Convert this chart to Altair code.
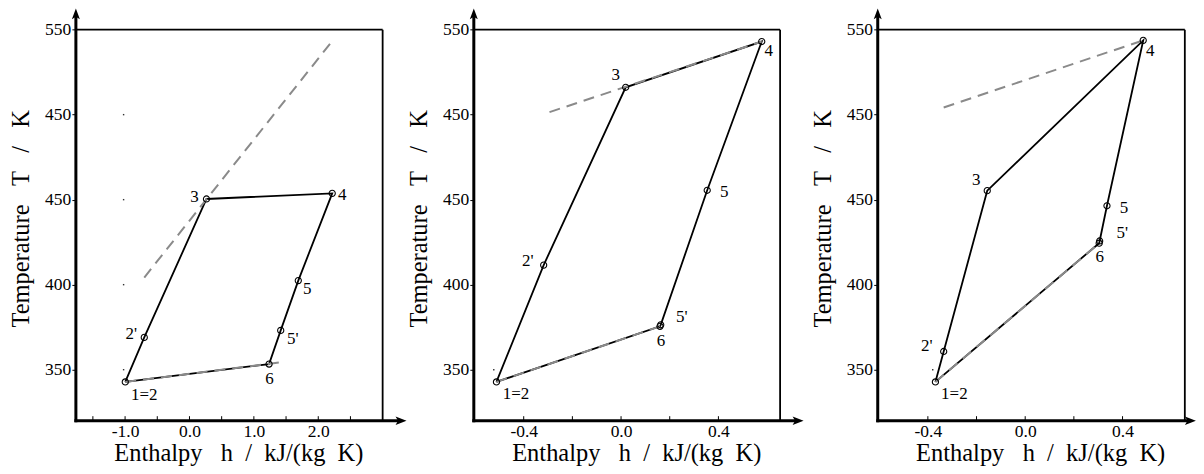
import altair as alt
import pandas as pd

FONT = "Liberation Serif, Times New Roman, Times, DejaVu Serif, serif"
TICK_FONT_SIZE = 17.5
LABEL_FONT_SIZE = 17
TITLE_FONT_SIZE = 24.5
GRAY = "#8a8a8a"

# ---------------- data ----------------
POINT_NAMES = ["1=2", "2'", "3", "4", "5", "5'", "6"]
CYCLE_ORDER = [0, 1, 2, 3, 4, 5, 6, 0]

# panel 1
P1_H = [-0.997, -0.702, 0.264, 2.217, 1.690, 1.417, 1.236]
P1_T = [342.8, 369.0, 450.4, 453.7, 402.4, 373.1, 353.3]
P1_GUIDES = [([-0.702, 2.217], [404.2, 543.3]), ([-0.997, 1.417], [342.8, 354.3])]
P1_DOT_H = [-1.023, -1.023, -1.023, -1.023]
P1_DOT_T = [350, 400, 450, 500]
P1_XLABELS = [-1.0, 0.0, 1.0, 2.0]
P1_XMINOR = [-1.5, -1.0, -0.5, 0.0, 0.5, 1.0, 1.5, 2.0, 2.5]

# panel 2
P2_H = [-0.512, -0.318, 0.019, 0.578, 0.354, 0.163, 0.160]
P2_T = [342.8, 411.5, 516.1, 543.0, 455.5, 376.4, 375.5]
P2_GUIDES = [([-0.294, 0.578], [501.5, 543.0]), ([-0.512, 0.160], [342.8, 375.5])]
P2_DOT_H = [-0.523]
P2_DOT_T = [350]
P2_XLABELS = [-0.4, 0.0, 0.4]
P2_XMINOR = [-0.4, -0.2, 0.0, 0.2, 0.4]

# panel 3
P3_H = [-0.369, -0.335, -0.156, 0.485, 0.336, 0.306, 0.304]
P3_T = [342.8, 360.7, 455.3, 543.7, 446.4, 425.7, 424.4]
P3_GUIDES = [([-0.335, 0.485], [504.2, 543.7]), ([-0.369, 0.304], [342.8, 424.4])]
P3_DOT_H = [-0.380]
P3_DOT_T = [350]
P3_XLABELS = [-0.4, 0.0, 0.4]
P3_XMINOR = [-0.4, -0.2, 0.0, 0.2, 0.4]

Y_TICK_VALUES = [350, 400, 450, 500, 550]
Y_TICK_LABELS = ["350", "400", "450", "450", "550"]
NB = "\u00a0"
Y_TITLE = f"Temperature{NB*3}T{NB*3}/{NB*3}K"
X_TITLE = f"Enthalpy{NB*3}h{NB*2}/{NB*2}kJ/(kg{NB*2}K)"

# ---------------- layout / style ----------------
T_BOTTOM, T_BOX, T_TOP = 320, 550, 562.5
HEIGHT = 413

# label offsets (pixels) per point, per panel
P1_OFFSETS = [(19, 13), (-13, -3), (-12, -1.5), (10, 2), (9, 8), (12, 8.5), (0.5, 14.5)]
P2_OFFSETS = [(19.5, 12.5), (-16, -4.5), (-10, -12.5), (7, 9.5), (17, 2.2), (21, -8), (1, 14.5)]
P3_OFFSETS = [(19, 12.5), (-17, -5.5), (-11, -10.5), (7, 10.5), (17, 2.5), (22.7, -8), (0.5, 13.5)]

PANELS = [
    dict(h=P1_H, T=P1_T, guides=P1_GUIDES, dot_h=P1_DOT_H, dot_T=P1_DOT_T,
         xlabels=P1_XLABELS, xminor=P1_XMINOR, h_axis=-1.764, h_box=3.0,
         h_tip=3.371, h_max=3.371, width=331.2, offsets=P1_OFFSETS),
    dict(h=P2_H, T=P2_T, guides=P2_GUIDES, dot_h=P2_DOT_H, dot_T=P2_DOT_T,
         xlabels=P2_XLABELS, xminor=P2_XMINOR, h_axis=-0.605, h_box=0.6535,
         h_tip=0.75, h_max=0.779, width=337.4, offsets=P2_OFFSETS),
    dict(h=P3_H, T=P3_T, guides=P3_GUIDES, dot_h=P3_DOT_H, dot_T=P3_DOT_T,
         xlabels=P3_XLABELS, xminor=P3_XMINOR, h_axis=-0.606, h_box=0.656,
         h_tip=0.7015, h_max=0.7015, width=318.7, offsets=P3_OFFSETS),
]

UP_ARROW = "M0,0L0.4,1.1L0,0.85L-0.4,1.1Z"
RIGHT_ARROW = "M0,0L-1.1,0.42L-0.85,0L-1.1,-0.42Z"


def y_label_expr():
    expr = "datum.label"
    for v, lab in reversed(list(zip(Y_TICK_VALUES, Y_TICK_LABELS))):
        expr = f"datum.value == {v} ? '{lab}' : ({expr})"
    return expr


def make_panel(p):
    kx = p["width"] / (p["h_max"] - p["h_axis"])
    ky = HEIGHT / (T_TOP - T_BOTTOM)
    xs = alt.Scale(domain=[p["h_axis"], p["h_max"]], nice=False, zero=False)
    ys = alt.Scale(domain=[T_BOTTOM, T_TOP], nice=False, zero=False)
    xaxis = alt.Axis(
        values=p["xlabels"],
        labelExpr="datum.value < 0 ? '-' + format(-datum.value, '.1f') : format(datum.value, '.1f')",
        title=X_TITLE, domain=False, grid=False, ticks=False, tickSize=0,
        labelPadding=15.6, labelBaseline="alphabetic", labelFont=FONT,
        labelFontSize=TICK_FONT_SIZE, labelColor="black", labelFlush=False,
        labelOverlap=False, titleFont=FONT, titleFontSize=TITLE_FONT_SIZE,
        titleFontWeight="normal", titleColor="black", titleX=162.7, titleY=40,
        titleBaseline="alphabetic", titleAlign="center",
    )
    yaxis = alt.Axis(
        values=Y_TICK_VALUES, labelExpr=y_label_expr(), title=Y_TITLE,
        domain=False, grid=False, ticks=True, tickSize=4, tickWidth=1,
        tickColor="black", labelFont=FONT, labelFontSize=TICK_FONT_SIZE,
        labelColor="black", labelPadding=1.2, labelBaseline="middle",
        labelFlush=False, labelOverlap=False, titleFont=FONT,
        titleFontSize=TITLE_FONT_SIZE, titleFontWeight="normal",
        titleColor="black", titleAngle=270, titleBaseline="alphabetic",
        titleAlign="center", titleX=-47.2, titleY=210.3,
    )

    def X(f="h"):
        return alt.X(f"{f}:Q", scale=xs, axis=xaxis)

    def Y(f="T"):
        return alt.Y(f"{f}:Q", scale=ys, axis=yaxis)

    layers = []

    # box (top and right border)
    box = pd.DataFrame({
        "h1": [p["h_axis"], p["h_box"]], "h2": [p["h_box"], p["h_box"]],
        "T1": [T_BOX, T_BOTTOM], "T2": [T_BOX, T_BOX],
    })
    layers.append(alt.Chart(box).mark_rule(color="black", strokeWidth=1.8).encode(
        x=X("h1"), x2=alt.X2("h2"), y=Y("T1"), y2=alt.Y2("T2")))

    # axis lines
    axes = pd.DataFrame({
        "h1": [p["h_axis"], p["h_axis"]],
        "h2": [p["h_tip"] - 7 / kx, p["h_axis"]],
        "T1": [T_BOTTOM, T_BOTTOM],
        "T2": [T_BOTTOM, T_TOP - 7 / ky],
    })
    layers.append(alt.Chart(axes).mark_rule(color="black", strokeWidth=3, strokeCap="square").encode(
        x=X("h1"), x2=alt.X2("h2"), y=Y("T1"), y2=alt.Y2("T2")))

    # arrow heads
    layers.append(alt.Chart(pd.DataFrame({"h": [p["h_axis"]], "T": [T_TOP]})).mark_point(
        shape=UP_ARROW, size=400, filled=True, color="black", opacity=1, strokeWidth=0
    ).encode(x=X(), y=Y()))
    layers.append(alt.Chart(pd.DataFrame({"h": [p["h_tip"]], "T": [T_BOTTOM]})).mark_point(
        shape=RIGHT_ARROW, size=400, filled=True, color="black", opacity=1, strokeWidth=0
    ).encode(x=X(), y=Y()))

    # inward x ticks
    ticks = pd.DataFrame({"h": p["xminor"], "T": [T_BOTTOM] * len(p["xminor"])})
    layers.append(alt.Chart(ticks).mark_rule(color="black", strokeWidth=1).encode(
        x=X(), y=Y(), y2=alt.value(HEIGHT - 4.5)))

    # black cycle
    cyc = pd.DataFrame({
        "h": [p["h"][i] for i in CYCLE_ORDER],
        "T": [p["T"][i] for i in CYCLE_ORDER],
        "ord": list(range(len(CYCLE_ORDER))),
    })
    layers.append(alt.Chart(cyc).mark_line(color="black", strokeWidth=1.8).encode(
        x=X(), y=Y(), order=alt.Order("ord:Q")))

    # gray dashed guides
    rows = []
    for gi, (gh, gt) in enumerate(p["guides"]):
        for j, (hh, tt) in enumerate(zip(gh, gt)):
            rows.append({"gid": gi, "ord": j, "h": hh, "T": tt})
    layers.append(alt.Chart(pd.DataFrame(rows)).mark_line(
        color=GRAY, strokeWidth=2, strokeDash=[11, 7]
    ).encode(x=X(), y=Y(), detail="gid:N", order=alt.Order("ord:Q")))

    # circles
    pts = pd.DataFrame({"h": p["h"], "T": p["T"]})
    layers.append(alt.Chart(pts).mark_point(
        shape="circle", size=38, filled=False, color="black", strokeWidth=1.1, opacity=1
    ).encode(x=X(), y=Y()))

    # point labels
    for name, hh, tt, (dx, dy) in zip(POINT_NAMES, p["h"], p["T"], p["offsets"]):
        df = pd.DataFrame({"h": [hh], "T": [tt], "label": [name]})
        layers.append(alt.Chart(df).mark_text(
            font=FONT, fontSize=LABEL_FONT_SIZE, color="black", align="center",
            baseline="middle", dx=dx, dy=dy
        ).encode(x=X(), y=Y(), text=alt.Text("label:N")))

    # stray dots
    dots = pd.DataFrame({"h": p["dot_h"], "T": p["dot_T"]})
    layers.append(alt.Chart(dots).mark_square(size=2, color="black", opacity=0.8).encode(
        x=X(), y=Y()))

    return alt.layer(*layers).properties(width=p["width"], height=HEIGHT)


chart = alt.hconcat(
    *[make_panel(p) for p in PANELS], spacing=66.6, bounds="flush"
).properties(
    padding={"left": 0, "top": 0, "right": 0, "bottom": 0},
    background="white",
).configure_view(stroke=None)

chart.save("out.html", embed_options={"renderer": "svg", "actions": False})
